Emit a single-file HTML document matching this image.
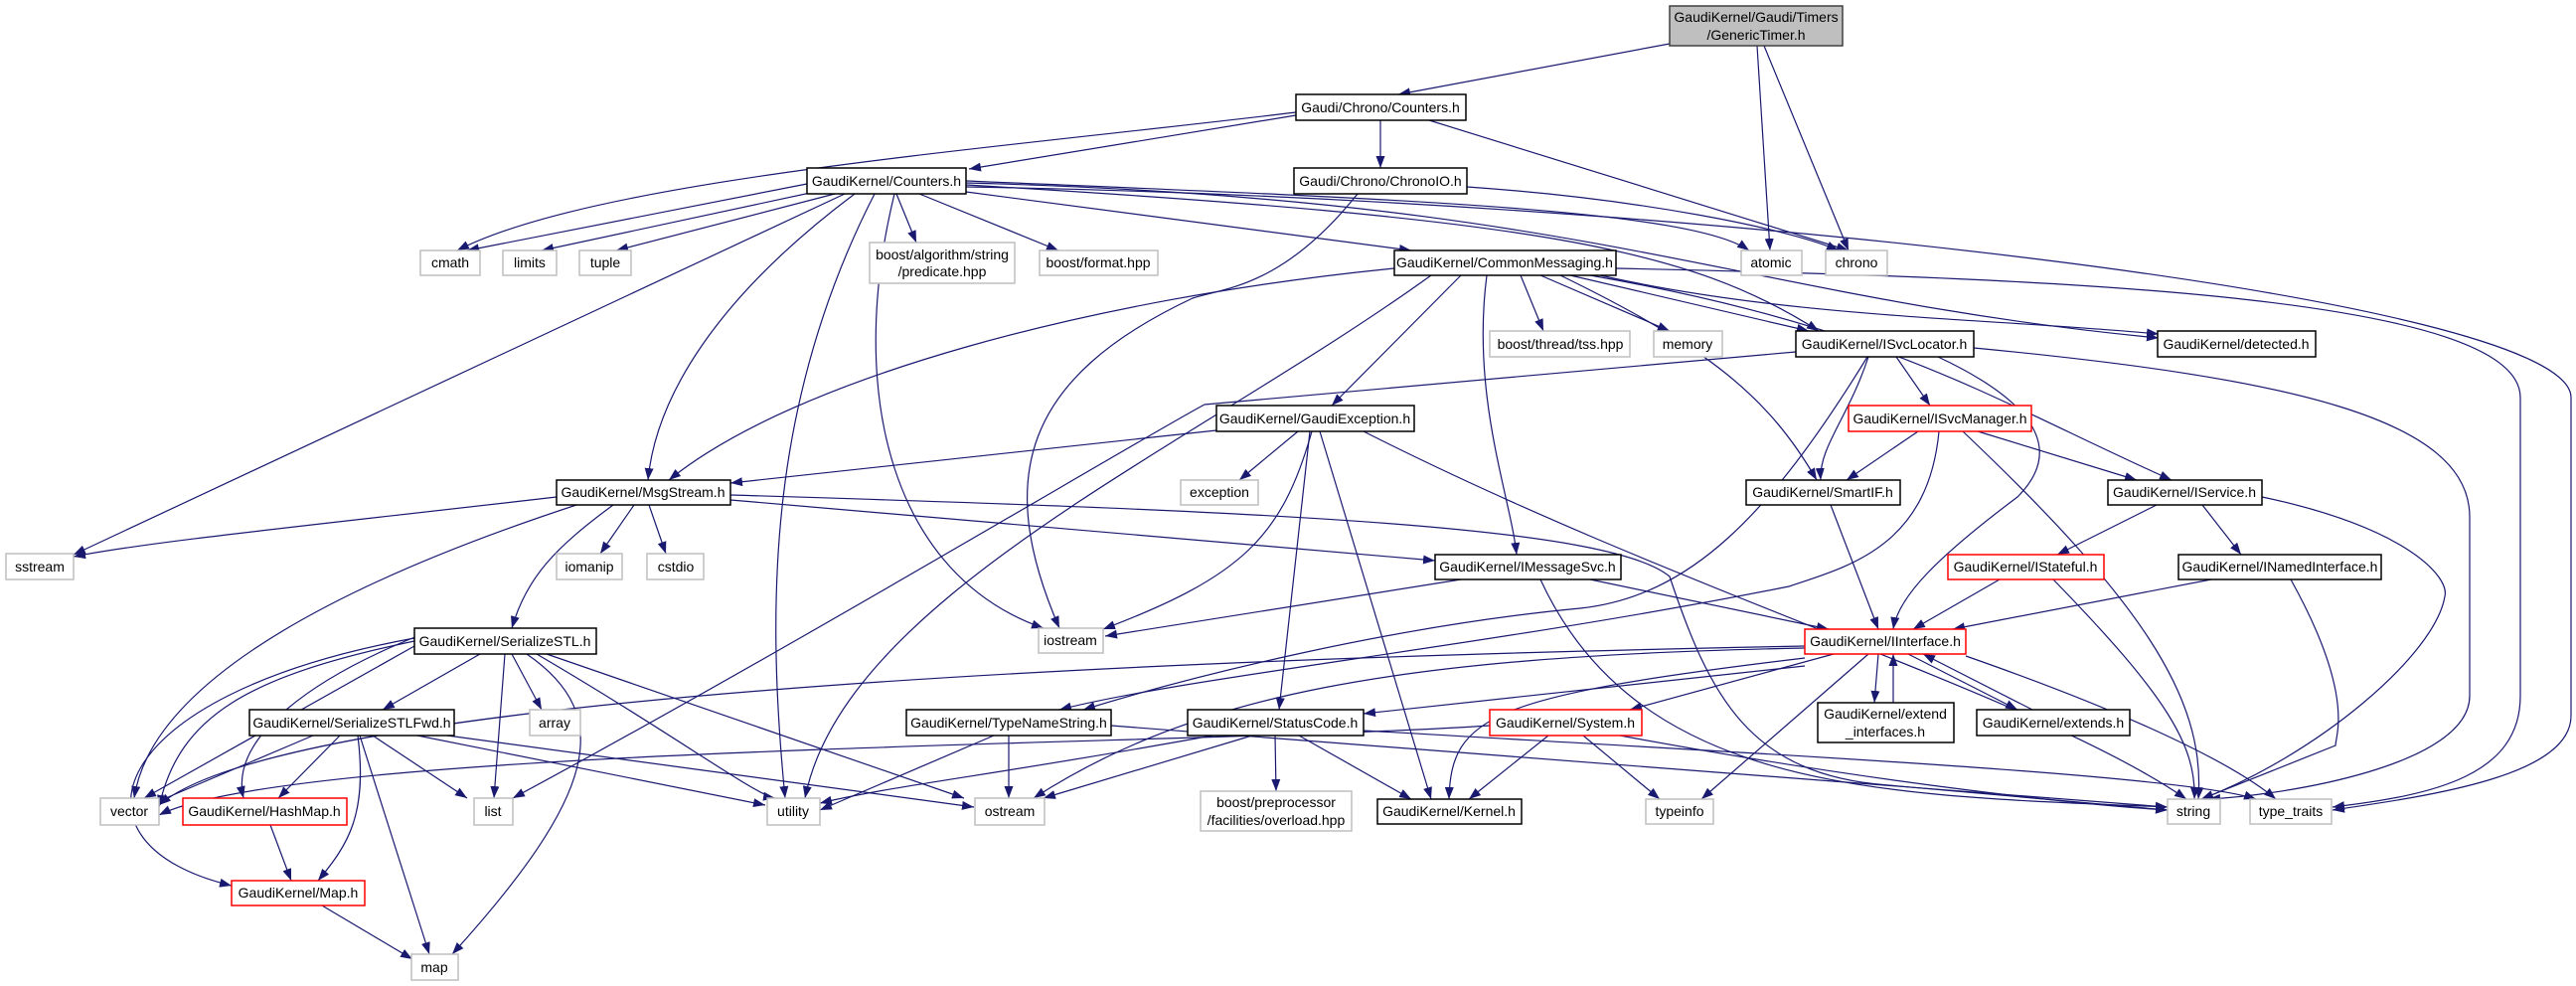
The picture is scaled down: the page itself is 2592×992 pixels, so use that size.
<!DOCTYPE html>
<html><head><meta charset="utf-8"><style>
html,body{margin:0;padding:0;background:#fff;}
svg{display:block;}
text{font-family:"Liberation Sans",sans-serif;font-size:14px;fill:#000;text-anchor:middle;}
.e{fill:none;stroke:#191970;stroke-width:1.2;marker-end:url(#a);}
.b{fill:#fff;stroke:#000;stroke-width:1.5;}
.g{fill:#fff;stroke:#bfbfbf;stroke-width:1.5;}
.r{fill:#fff;stroke:#ff0000;stroke-width:1.5;}
</style></head><body>
<svg width="2592" height="992" viewBox="0 0 2592 992" xmlns="http://www.w3.org/2000/svg">
<defs><marker id="a" markerUnits="userSpaceOnUse" markerWidth="12" markerHeight="9" refX="12" refY="4.5" orient="auto"><path d="M0,0 L12,4.5 L0,9 z" fill="#191970"/></marker></defs>
<g>
<path class="e" d="M1680,44 L1407,95"/>
<path class="e" d="M1768,46 L1781,252"/>
<path class="e" d="M1775,46 L1860,252"/>
<path class="e" d="M1304,116 L975,170"/>
<path class="e" d="M1389,121 L1389,169"/>
<path class="e" d="M1304,113 C1000,150 600,180 460,252"/>
<path class="e" d="M1438,121 L1860,252"/>
<path class="e" d="M1476,188 C1650,200 1800,230 1850,252"/>
<path class="e" d="M1366,195 C1290,290 1230,290 1200,300 C1030,380 1000,480 1066,632"/>
<path class="e" d="M812,185 L470,252"/>
<path class="e" d="M820,193 L545,252"/>
<path class="e" d="M840,195 L620,252"/>
<path class="e" d="M850,195 L74,558"/>
<path class="e" d="M860,195 C720,300 660,400 652,483"/>
<path class="e" d="M880,195 C775,400 770,600 790,803"/>
<path class="e" d="M900,195 C850,400 900,580 1050,632"/>
<path class="e" d="M902,195 L922,244"/>
<path class="e" d="M925,195 L1065,252"/>
<path class="e" d="M972,193 L1420,252"/>
<path class="e" d="M972,182 C1400,200 1700,210 1760,252"/>
<path class="e" d="M972,184 C1600,200 1750,300 2172,340"/>
<path class="e" d="M972,186 C1550,220 1700,250 1830,333"/>
<path class="e" d="M972,188 C1700,200 2587,300 2587,400 L2587,720 C2587,780 2450,800 2347,815"/>
<path class="e" d="M1403,270 C1100,300 800,380 673,483"/>
<path class="e" d="M1440,277 C1200,450 850,600 810,803"/>
<path class="e" d="M1470,277 L1340,408"/>
<path class="e" d="M1496,277 C1480,400 1520,500 1526,558"/>
<path class="e" d="M1530,277 L1553,333"/>
<path class="e" d="M1550,277 L1680,333"/>
<path class="e" d="M1580,277 L1820,333"/>
<path class="e" d="M1570,277 C1720,350 1780,400 1828,483"/>
<path class="e" d="M1610,277 C1800,320 2000,320 2172,336"/>
<path class="e" d="M1600,277 C1900,330 2000,400 2185,483"/>
<path class="e" d="M1626,270 C2100,280 2536,300 2536,400 L2536,700 C2536,780 2450,800 2347,812"/>
<path class="e" d="M1807,354 L1212,407 C1150,440 800,650 516,803"/>
<path class="e" d="M1879,359 C1780,520 1700,600 1590,612 C1400,630 1200,680 1090,714"/>
<path class="e" d="M1951,434 C1940,550 1860,570 1800,590 C1500,650 1200,680 1066,714"/>
<path class="e" d="M1880,359 C1860,420 1830,450 1832,483"/>
<path class="e" d="M1908,359 L1942,408"/>
<path class="e" d="M1950,359 C2080,420 2060,470 2030,500 C1950,560 1910,600 1905,633"/>
<path class="e" d="M1986,350 C2300,380 2485,420 2485,520 L2485,700 C2485,770 2300,800 2222,804"/>
<path class="e" d="M1224,433 L735,486"/>
<path class="e" d="M1306,434 L1247,483"/>
<path class="e" d="M1320,434 C1290,540 1250,580 1110,633"/>
<path class="e" d="M1318,434 L1287,714"/>
<path class="e" d="M1328,434 L1440,804"/>
<path class="e" d="M1372,434 C1700,600 2050,700 2200,804"/>
<path class="e" d="M560,500 C300,530 150,545 74,560"/>
<path class="e" d="M580,508 C300,600 150,700 135,803"/>
<path class="e" d="M617,508 C560,550 530,580 515,632"/>
<path class="e" d="M638,508 L604,557"/>
<path class="e" d="M653,508 L670,557"/>
<path class="e" d="M735,503 L1444,564"/>
<path class="e" d="M735,498 C1300,515 1620,530 1680,580 C1720,700 1760,780 1900,790 L2181,815"/>
<path class="e" d="M1930,434 L1858,483"/>
<path class="e" d="M1990,434 L2150,483"/>
<path class="e" d="M1975,434 C2150,600 2220,700 2212,804"/>
<path class="e" d="M1842,508 L1890,633"/>
<path class="e" d="M2170,508 L2070,558"/>
<path class="e" d="M2216,508 L2255,558"/>
<path class="e" d="M2276,500 C2420,530 2465,580 2460,600 C2450,660 2330,760 2215,804"/>
<path class="e" d="M2012,583 L1925,633"/>
<path class="e" d="M2066,583 C2180,700 2210,750 2208,804"/>
<path class="e" d="M2225,583 L1965,633"/>
<path class="e" d="M2305,583 C2370,700 2350,740 2350,750 L2215,804"/>
<path class="e" d="M1470,583 L1112,640"/>
<path class="e" d="M1600,583 L1840,633"/>
<path class="e" d="M1550,583 C1650,800 1900,800 2181,812"/>
<path class="e" d="M1890,658 L1886,707"/>
<path class="e" d="M1905,707 L1905,658"/>
<path class="e" d="M1920,658 L2030,714"/>
<path class="e" d="M2045,714 L1935,658"/>
<path class="e" d="M1816,670 L1372,718"/>
<path class="e" d="M1845,658 L1640,714"/>
<path class="e" d="M1816,662 C1500,700 1460,720 1458,804"/>
<path class="e" d="M1880,658 L1712,804"/>
<path class="e" d="M1978,660 C2150,720 2250,770 2290,804"/>
<path class="e" d="M1816,652 C1400,660 1200,700 1040,803"/>
<path class="e" d="M1816,650 C1300,660 300,690 160,810"/>
<path class="e" d="M1220,740 C1000,780 900,790 825,808"/>
<path class="e" d="M1260,740 L1050,803"/>
<path class="e" d="M1283,740 L1284,796"/>
<path class="e" d="M1307,740 L1420,804"/>
<path class="e" d="M1372,735 C1800,760 2200,780 2270,804"/>
<path class="e" d="M1499,730 C1200,750 300,750 160,820"/>
<path class="e" d="M1558,740 L1478,804"/>
<path class="e" d="M1593,740 L1670,804"/>
<path class="e" d="M1630,740 C1900,790 2100,810 2181,815"/>
<path class="e" d="M1000,740 L825,815"/>
<path class="e" d="M1015,740 L1015,803"/>
<path class="e" d="M1118,730 C1600,770 2000,800 2181,812"/>
<path class="e" d="M417,645 C250,680 180,720 160,812"/>
<path class="e" d="M417,650 L145,803"/>
<path class="e" d="M420,640 C320,680 230,740 245,803"/>
<path class="e" d="M417,642 C100,700 60,850 233,891"/>
<path class="e" d="M483,658 L385,714"/>
<path class="e" d="M508,658 L497,803"/>
<path class="e" d="M515,658 L545,714"/>
<path class="e" d="M530,658 C620,720 600,800 455,960"/>
<path class="e" d="M540,658 C680,740 760,800 780,803"/>
<path class="e" d="M550,658 L970,803"/>
<path class="e" d="M315,740 L155,808"/>
<path class="e" d="M342,740 L280,803"/>
<path class="e" d="M360,740 C370,820 350,850 320,886"/>
<path class="e" d="M362,740 L432,960"/>
<path class="e" d="M375,740 L470,803"/>
<path class="e" d="M420,740 L770,810"/>
<path class="e" d="M450,740 L980,812"/>
<path class="e" d="M272,830 L293,886"/>
<path class="e" d="M324,911 L415,965"/>
</g>
<g>
<rect x="1680" y="6" width="174" height="40" fill="#bfbfbf" stroke="#404040" stroke-width="1.5"/>
<text x="1767" y="22">GaudiKernel/Gaudi/Timers</text><text x="1767" y="40">/GenericTimer.h</text>
<rect class="b" x="1304" y="95" width="171" height="26"/><text x="1389" y="113">Gaudi/Chrono/Counters.h</text>
<rect class="b" x="812" y="169" width="160" height="26"/><text x="892" y="187">GaudiKernel/Counters.h</text>
<rect class="b" x="1302" y="169" width="174" height="26"/><text x="1389" y="187">Gaudi/Chrono/ChronoIO.h</text>
<rect class="g" x="423" y="252" width="60" height="25"/><text x="453" y="269">cmath</text>
<rect class="g" x="506" y="252" width="54" height="25"/><text x="533" y="269">limits</text>
<rect class="g" x="583" y="252" width="52" height="25"/><text x="609" y="269">tuple</text>
<rect class="g" x="875" y="244" width="146" height="41"/><text x="948" y="261">boost/algorithm/string</text><text x="948" y="278">/predicate.hpp</text>
<rect class="g" x="1046" y="252" width="119" height="25"/><text x="1105" y="269">boost/format.hpp</text>
<rect class="b" x="1403" y="252" width="223" height="25"/><text x="1514" y="269">GaudiKernel/CommonMessaging.h</text>
<rect class="g" x="1752" y="252" width="61" height="25"/><text x="1782" y="269">atomic</text>
<rect class="g" x="1837" y="252" width="62" height="25"/><text x="1868" y="269">chrono</text>
<rect class="g" x="1499" y="333" width="141" height="26"/><text x="1570" y="351">boost/thread/tss.hpp</text>
<rect class="g" x="1664" y="333" width="69" height="26"/><text x="1698" y="351">memory</text>
<rect class="b" x="1807" y="333" width="179" height="26"/><text x="1896" y="351">GaudiKernel/ISvcLocator.h</text>
<rect class="b" x="2171" y="333" width="159" height="26"/><text x="2250" y="351">GaudiKernel/detected.h</text>
<rect class="b" x="1224" y="408" width="199" height="26"/><text x="1323" y="426">GaudiKernel/GaudiException.h</text>
<rect class="r" x="1860" y="408" width="184" height="26"/><text x="1952" y="426">GaudiKernel/ISvcManager.h</text>
<rect class="b" x="560" y="483" width="175" height="25"/><text x="647" y="500">GaudiKernel/MsgStream.h</text>
<rect class="g" x="1188" y="483" width="78" height="25"/><text x="1227" y="500">exception</text>
<rect class="b" x="1757" y="483" width="155" height="25"/><text x="1834" y="500">GaudiKernel/SmartIF.h</text>
<rect class="b" x="2121" y="483" width="155" height="25"/><text x="2198" y="500">GaudiKernel/IService.h</text>
<rect class="g" x="6" y="557" width="68" height="26"/><text x="40" y="575">sstream</text>
<rect class="g" x="560" y="557" width="66" height="26"/><text x="593" y="575">iomanip</text>
<rect class="g" x="651" y="557" width="57" height="26"/><text x="680" y="575">cstdio</text>
<rect class="b" x="1444" y="558" width="187" height="25"/><text x="1537" y="575">GaudiKernel/IMessageSvc.h</text>
<rect class="r" x="1960" y="558" width="157" height="25"/><text x="2038" y="575">GaudiKernel/IStateful.h</text>
<rect class="b" x="2192" y="558" width="204" height="25"/><text x="2294" y="575">GaudiKernel/INamedInterface.h</text>
<rect class="b" x="417" y="632" width="183" height="26"/><text x="508" y="650">GaudiKernel/SerializeSTL.h</text>
<rect class="g" x="1045" y="632" width="65" height="25"/><text x="1077" y="649">iostream</text>
<rect class="r" x="1816" y="633" width="162" height="25"/><text x="1897" y="650">GaudiKernel/IInterface.h</text>
<rect class="b" x="251" y="714" width="206" height="26"/><text x="354" y="732">GaudiKernel/SerializeSTLFwd.h</text>
<rect class="g" x="533" y="714" width="51" height="26"/><text x="558" y="732">array</text>
<rect class="b" x="912" y="714" width="206" height="26"/><text x="1015" y="732">GaudiKernel/TypeNameString.h</text>
<rect class="b" x="1195" y="714" width="177" height="26"/><text x="1283" y="732">GaudiKernel/StatusCode.h</text>
<rect class="r" x="1499" y="714" width="153" height="26"/><text x="1575" y="732">GaudiKernel/System.h</text>
<rect class="b" x="1829" y="707" width="137" height="40"/><text x="1897" y="723">GaudiKernel/extend</text><text x="1897" y="741">_interfaces.h</text>
<rect class="b" x="1989" y="714" width="154" height="26"/><text x="2066" y="732">GaudiKernel/extends.h</text>
<rect class="g" x="101" y="803" width="59" height="27"/><text x="130" y="821">vector</text>
<rect class="r" x="184" y="803" width="165" height="27"/><text x="266" y="821">GaudiKernel/HashMap.h</text>
<rect class="g" x="477" y="803" width="39" height="27"/><text x="496" y="821">list</text>
<rect class="g" x="772" y="803" width="53" height="27"/><text x="798" y="821">utility</text>
<rect class="g" x="981" y="803" width="70" height="27"/><text x="1016" y="821">ostream</text>
<rect class="g" x="1208" y="796" width="152" height="40"/><text x="1284" y="812">boost/preprocessor</text><text x="1284" y="830">/facilities/overload.hpp</text>
<rect class="b" x="1386" y="804" width="145" height="25"/><text x="1458" y="821">GaudiKernel/Kernel.h</text>
<rect class="g" x="1656" y="804" width="68" height="25"/><text x="1690" y="821">typeinfo</text>
<rect class="g" x="2181" y="804" width="53" height="25"/><text x="2207" y="821">string</text>
<rect class="g" x="2264" y="804" width="82" height="25"/><text x="2305" y="821">type_traits</text>
<rect class="r" x="233" y="886" width="134" height="25"/><text x="300" y="903">GaudiKernel/Map.h</text>
<rect class="g" x="414" y="960" width="47" height="26"/><text x="437" y="978">map</text>
</g>
</svg>
</body></html>
